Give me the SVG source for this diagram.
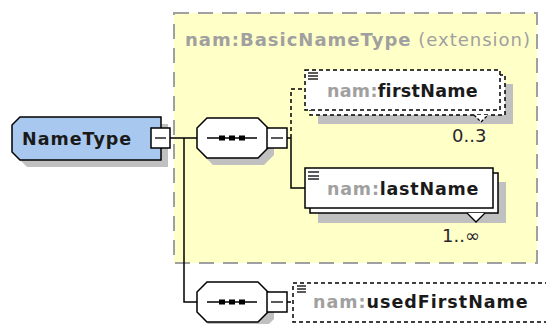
<svg xmlns="http://www.w3.org/2000/svg" width="546" height="324" viewBox="0 0 546 324">
<defs>
<style>
.t{font-family:"DejaVu Sans","Liberation Sans",sans-serif;font-size:17.5px;font-weight:bold;letter-spacing:0.8px}
.ns{fill:#a0a0a0}
.nm{fill:#1a1a1a}
.occ{font-family:"DejaVu Sans","Liberation Sans",sans-serif;font-size:18px;fill:#2a1f30}
.box{fill:#fff;stroke:#000;stroke-width:1.5}
.dash{stroke-dasharray:4 3}
.shadow{fill:#c0c0c0;stroke:none}
.ln{fill:none;stroke:#000;stroke-width:1.5}
.icon{stroke:#000;stroke-width:1.3}
</style>
</defs>
<rect width="546" height="324" fill="#fff"/>

<g id="extension">
<rect x="174" y="13" width="363" height="250" fill="#ffffc8" stroke="#a0a0a0" stroke-width="2" stroke-dasharray="15 9"/>
<text x="185" y="46" class="t" fill="#a0a0a0" style="font-size:18px;letter-spacing:1px">nam:BasicNameType<tspan font-weight="normal"> (extension)</tspan></text>
</g>

<g id="connectors">
<line x1="170" y1="138" x2="197" y2="138" class="ln"/>
<polyline points="184,138 184,302 197,302" class="ln"/>
<line x1="287" y1="138" x2="291" y2="138" class="ln"/>
<polyline points="291,138 291,188 305,188" class="ln"/>
<polyline points="291,138 291,89 305,89" class="ln dash"/>
<line x1="287" y1="302" x2="293" y2="302" class="ln dash"/>
</g>

<g id="NameType">
<polygon points="27,124 168,124 168,167 27,167 19,159 19,132" class="shadow"/>
<polygon points="20,117 161,117 161,160 20,160 12,152 12,125" fill="#a9c8ef" stroke="#000" stroke-width="1.5"/>
<text x="22" y="145" class="t nm" style="letter-spacing:1px">NameType</text>
<rect x="151" y="128" width="19" height="20" class="box"/>
<line x1="155" y1="138" x2="166" y2="138" class="icon" stroke-width="1.5"/>
</g>

<g id="sequence1">
<path d="M213,125 H264 L274,135 V155 L264,165 H213 L203,155 V135 Z" class="shadow"/>
<path d="M207,118 H258 L268,128 V148 L258,158 H207 L197,148 V128 Z" class="box"/>
<line x1="207" y1="138" x2="257" y2="138" class="icon" stroke-width="1.5"/>
<rect x="219" y="135.5" width="6" height="5"/>
<rect x="229" y="135.5" width="6" height="5"/>
<rect x="239" y="135.5" width="6" height="5"/>
<rect x="267" y="128" width="20" height="20" class="box"/>
<line x1="271" y1="138" x2="283" y2="138" class="icon" stroke-width="1.5"/>
</g>

<g id="firstName">
<rect x="318" y="84" width="195" height="40" class="shadow"/>
<rect x="310" y="75" width="195" height="40" class="box dash"/>
<rect x="305" y="70" width="195" height="40" class="box dash"/>
<line x1="308" y1="73" x2="318" y2="73" class="icon"/>
<line x1="308" y1="76" x2="318" y2="76" class="icon"/>
<line x1="308" y1="79" x2="318" y2="79" class="icon"/>
<text x="327" y="97" class="t" style="letter-spacing:0.3px"><tspan class="ns">nam:</tspan><tspan class="nm">firstName</tspan></text>
<polyline points="474,115 481,122 488,115" fill="#fff" stroke="#000" stroke-width="1.3" stroke-dasharray="3 2"/>
<text x="452" y="142" class="occ">0..3</text>
</g>

<g id="lastName">
<rect x="318" y="182" width="188" height="41" class="shadow"/>
<rect x="310" y="173" width="188" height="40" class="box"/>
<rect x="305" y="168" width="188" height="40" class="box"/>
<line x1="308" y1="172" x2="319" y2="172" class="icon"/>
<line x1="308" y1="176" x2="319" y2="176" class="icon"/>
<line x1="308" y1="179" x2="319" y2="179" class="icon"/>
<text x="327" y="195" class="t"><tspan class="ns">nam:</tspan><tspan class="nm">lastName</tspan></text>
<polyline points="467,213 476,222 485,213" fill="#fff" stroke="#000" stroke-width="1.3"/>
<text x="442" y="242" class="occ">1..∞</text>
</g>

<g id="sequence2">
<path d="M213,289 H264 L274,299 V319 L264,329 H213 L203,319 V299 Z" class="shadow"/>
<path d="M207,282 H258 L268,292 V312 L258,322 H207 L197,312 V292 Z" class="box"/>
<line x1="207" y1="302" x2="257" y2="302" class="icon" stroke-width="1.5"/>
<rect x="219" y="299.5" width="6" height="5"/>
<rect x="229" y="299.5" width="6" height="5"/>
<rect x="239" y="299.5" width="6" height="5"/>
<rect x="267" y="292" width="20" height="20" class="box"/>
<line x1="271" y1="302" x2="283" y2="302" class="icon" stroke-width="1.5"/>
</g>

<g id="usedFirstName">
<rect x="293" y="283" width="262" height="39" class="box dash"/>
<line x1="297" y1="286" x2="306" y2="286" class="icon"/>
<line x1="297" y1="289" x2="306" y2="289" class="icon"/>
<line x1="297" y1="292" x2="306" y2="292" class="icon"/>
<text x="313" y="308" class="t" style="letter-spacing:1px"><tspan class="ns">nam:</tspan><tspan class="nm">usedFirstName</tspan></text>
</g>
</svg>
